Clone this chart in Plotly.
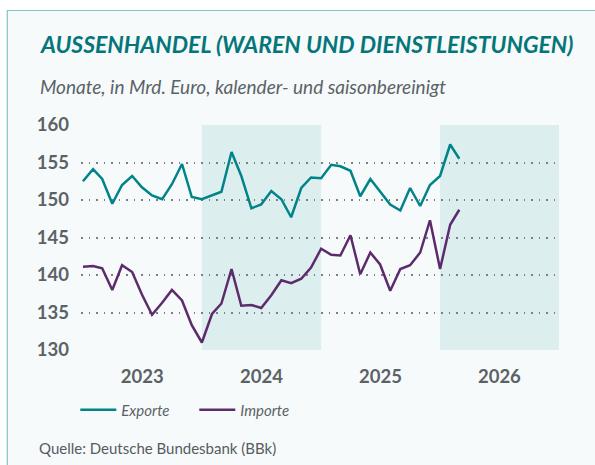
import plotly.graph_objects as go
import pandas as pd

months = pd.date_range("2023-01-01", periods=39, freq="MS")

exporte = [152.5, 154.1, 152.8, 149.5, 152.0, 153.2, 151.7, 150.6, 150.1, 152.1,
           154.8, 150.4, 150.1, 150.6, 151.1, 156.4, 153.2, 148.9, 149.4, 151.2,
           150.1, 147.7, 151.6, 153.0, 152.9, 154.7, 154.5, 153.9, 150.5, 152.8,
           151.1, 149.4, 148.6, 151.6, 149.2, 152.0, 153.2, 157.4, 155.5]

importe = [141.1, 141.2, 140.9, 138.0, 141.3, 140.4, 137.4, 134.7, 136.3, 138.0,
           136.6, 133.3, 131.0, 134.8, 136.2, 140.8, 135.9, 136.0, 135.6, 137.3,
           139.3, 138.9, 139.5, 141.0, 143.5, 142.7, 142.6, 145.3, 140.1, 143.0,
           141.4, 137.9, 140.8, 141.3, 143.0, 147.3, 140.8, 146.7, 148.7]

year_ticks = ["2023-07-02", "2024-07-02", "2025-07-02", "2026-07-02"]
year_labels = ["2023", "2024", "2025", "2026"]
shaded_years = [("2024-01-01", "2025-01-01"), ("2026-01-01", "2027-01-01")]
y_ticks = [130, 135, 140, 145, 150, 155, 160]

FONT = "Lato"
GREY = "#5b6266"
TEAL = "#00848a"
PURPLE = "#5d2b6c"

fig = go.Figure()
fig.add_trace(go.Scatter(x=months, y=exporte, mode="lines", name="Exporte",
                         line=dict(color=TEAL, width=2.5)))
fig.add_trace(go.Scatter(x=months, y=importe, mode="lines", name="Importe",
                         line=dict(color=PURPLE, width=2.5)))

L, R, T, B = 80.7, 36.3, 125, 115
W, H = 595, 465
pw, ph = W - L - R, H - T - B

def px_x(p):
    return (p - L) / pw

def px_y(p):
    return (H - B - p) / ph

shapes = [dict(type="rect", xref="paper", yref="paper",
               x0=px_x(7), x1=px_x(605), y0=px_y(475), y1=px_y(10.5),
               fillcolor="#f6fafb", line=dict(color="#7fc4c8", width=1.2),
               layer="below")]
for a, b in shaded_years:
    shapes.append(dict(type="rect", xref="x", yref="paper", x0=a, x1=b, y0=0, y1=1,
                       fillcolor="#ddeeee", line=dict(width=0), layer="below"))

fig.update_layout(
    width=W, height=H,
    margin=dict(l=L, r=R, t=T, b=B, pad=0),
    paper_bgcolor="white",
    plot_bgcolor="rgba(0,0,0,0)",
    shapes=shapes,
    font=dict(family=FONT, color=GREY),
    title=dict(text="<b><i>AUSSENHANDEL (WAREN UND DIENSTLEISTUNGEN)</i></b>",
               x=41 / W, xanchor="left", xref="container",
               y=1 - 45 / H, yanchor="middle", yref="container",
               font=dict(family=FONT, size=23, color="#04767a")),
    annotations=[
        dict(text="<i>Monate, in Mrd. Euro, kalender- und saisonbereinigt</i>",
             xref="paper", yref="paper", x=px_x(38), y=px_y(86),
             xanchor="left", yanchor="middle", showarrow=False,
             font=dict(family=FONT, size=19, color=GREY)),
        dict(text="Quelle: Deutsche Bundesbank (BBk)",
             xref="paper", yref="paper", x=px_x(37), y=px_y(448),
             xanchor="left", yanchor="middle", showarrow=False,
             font=dict(family=FONT, size=15, color="#555b5f")),
    ],
    showlegend=True,
    legend=dict(orientation="h", x=px_x(75), y=px_y(410), xanchor="left",
                yanchor="middle", bgcolor="rgba(0,0,0,0)",
                itemwidth=36,
                entrywidth=68, entrywidthmode="pixels",
                font=dict(family=FONT, size=15, color=GREY, style="italic")),
    xaxis=dict(type="date", range=["2022-12-26", "2027-01-01"],
               tickvals=year_ticks, ticktext=year_labels,
               showgrid=False, zeroline=False, showline=False, ticks="",
               ticklabelstandoff=13,
               tickfont=dict(family=FONT, size=18.5, color=GREY, weight="bold")),
    yaxis=dict(range=[130, 160], tickvals=y_ticks, showgrid=True,
               gridcolor="#7a7f82", gridwidth=1.6, griddash="1.6px,5.9px",
               zeroline=False, showline=False, ticks="",
               ticklabelstandoff=11,
               tickfont=dict(family=FONT, size=18.5, color=GREY, weight="bold")),
)

fig.write_html("out.html", config={"displayModeBar": False},
               post_script="document.body.style.margin='0';")
